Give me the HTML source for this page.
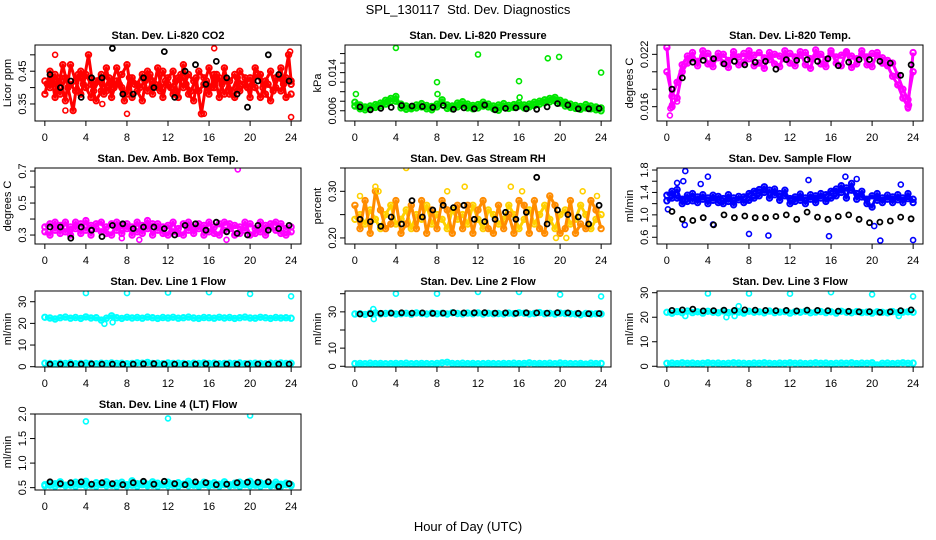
<!DOCTYPE html>
<html><head><meta charset="utf-8"><style>
html,body{margin:0;padding:0;background:#fff}
svg{display:block;font-family:"Liberation Sans",Arial,sans-serif}
</style></head><body>
<svg id="chart" width="936" height="540" viewBox="0 0 936 540">
<text x="468" y="14" text-anchor="middle" font-size="13" style="white-space:pre">SPL_130117  Std. Dev. Diagnostics</text>
<text x="468" y="531" text-anchor="middle" font-size="13">Hour of Day (UTC)</text>
</svg>
<script>
// ---------- data ----------
const xTicks = [0,4,8,12,16,20,24];

const co2A = [0.42,0.40,0.44,0.38,0.43,0.41,0.39,0.45,0.40,0.37,0.42,0.44,0.39,0.41,0.46,0.40,0.38,0.43,0.41,0.44,0.39,0.42,0.40,0.45,0.41,0.38,0.43,0.40,0.44,0.42,0.39,0.41,0.46,0.40,0.43,0.38,0.42,0.44,0.39,0.41,0.43,0.40,0.37,0.42,0.45,0.40,0.39,0.43,0.41];
const co2B = [0.38,0.45,0.37,0.43,0.36,0.47,0.42,0.38,0.44,0.41,0.36,0.39,0.46,0.37,0.42,0.44,0.47,0.37,0.39,0.36,0.45,0.38,0.46,0.37,0.43,0.45,0.37,0.47,0.38,0.36,0.45,0.43,0.38,0.44,0.37,0.46,0.38,0.37,0.45,0.43,0.37,0.46,0.44,0.38,0.36,0.43,0.46,0.37,0.38];
const co2C = [0.41,0.43,0.39,0.47,0.40,0.33,0.44,0.41,0.50,0.39,0.42,0.38,0.43,0.40,0.41,0.36,0.43,0.41,0.40,0.42,0.44,0.41,0.39,0.42,0.40,0.42,0.44,0.41,0.39,0.43,0.32,0.42,0.40,0.44,0.41,0.42,0.39,0.43,0.41,0.40,0.42,0.44,0.40,0.41,0.39,0.43,0.41,0.50,0.42];
const co2OutT = [1.0,2.0,5.6,8.0,15.5,16.5,23.9,24.0];
const co2OutV = [0.50,0.33,0.35,0.32,0.32,0.52,0.51,0.31];
const co2Black = [0.44,0.40,0.42,0.37,0.43,0.43,0.52,0.38,0.38,0.43,0.40,0.51,0.37,0.45,0.47,0.41,0.48,0.43,0.38,0.34,0.42,0.50,0.44,0.42];
const co2Ticks = [0.35,0.40,0.45,0.50];
const co2Labels = ["0.35","","0.45",""];

const prA = [0.0078,0.0072,0.0068,0.0070,0.0073,0.0076,0.0082,0.0086,0.0080,0.0074,0.0070,0.0068,0.0072,0.0075,0.0071,0.0069,0.0074,0.0077,0.0072,0.0070,0.0076,0.0079,0.0074,0.0071,0.0073,0.0078,0.0074,0.0070,0.0072,0.0075,0.0071,0.0073,0.0076,0.0072,0.0074,0.0078,0.0080,0.0083,0.0086,0.0088,0.0082,0.0078,0.0074,0.0071,0.0069,0.0073,0.0070,0.0068,0.0066];
const prB = [0.0070,0.0064,0.0062,0.0065,0.0067,0.0070,0.0074,0.0080,0.0090,0.0066,0.0063,0.0064,0.0066,0.0068,0.0064,0.0062,0.0068,0.0083,0.0065,0.0064,0.0068,0.0072,0.0066,0.0064,0.0066,0.0070,0.0068,0.0064,0.0061,0.0068,0.0065,0.0067,0.0070,0.0066,0.0068,0.0071,0.0074,0.0077,0.0079,0.0081,0.0076,0.0070,0.0067,0.0065,0.0063,0.0066,0.0064,0.0062,0.0060];
const prOutT = [0.1,4.0,8.0,8.05,12.0,16.0,16.05,18.8,19.9,24.0];
const prOutV = [0.0095,0.0192,0.0120,0.0095,0.0178,0.0122,0.0088,0.0170,0.0173,0.0140];
const prBlack = [0.0068,0.0062,0.0065,0.0067,0.0071,0.0070,0.0069,0.0067,0.0071,0.0063,0.0066,0.0064,0.0072,0.0062,0.0065,0.0066,0.0064,0.0063,0.0068,0.0075,0.0072,0.0064,0.0064,0.0065];
const prTicks = [0.006,0.008,0.010,0.012,0.014,0.016,0.018];
const prLabels = ["0.006","","","","0.014","",""];

const tpA = [0.0200,0.0172,0.0188,0.0208,0.0218,0.0215,0.0212,0.0218,0.0221,0.0214,0.0216,0.0220,0.0213,0.0219,0.0217,0.0221,0.0215,0.0219,0.0222,0.0216,0.0214,0.0220,0.0218,0.0215,0.0221,0.0217,0.0219,0.0222,0.0215,0.0218,0.0220,0.0214,0.0221,0.0217,0.0219,0.0222,0.0218,0.0215,0.0220,0.0217,0.0221,0.0219,0.0216,0.0213,0.0210,0.0196,0.0180,0.0168,0.0200];
const tpB = [0.0228,0.0160,0.0170,0.0200,0.0210,0.0222,0.0207,0.0224,0.0209,0.0206,0.0221,0.0210,0.0205,0.0223,0.0208,0.0211,0.0224,0.0207,0.0210,0.0204,0.0222,0.0209,0.0206,0.0224,0.0210,0.0207,0.0223,0.0208,0.0204,0.0225,0.0209,0.0206,0.0224,0.0210,0.0207,0.0223,0.0205,0.0209,0.0224,0.0208,0.0206,0.0222,0.0210,0.0207,0.0195,0.0185,0.0170,0.0160,0.0222];
const tpOutT = [0.3,0.35,0.5,1.0,23.5,23.6];
const tpOutV = [0.0150,0.0158,0.0162,0.0166,0.0158,0.0162];
const tpBlack = [0.0180,0.0193,0.0211,0.0213,0.0215,0.0209,0.0212,0.0208,0.0211,0.0212,0.0203,0.0214,0.0213,0.0214,0.0212,0.0215,0.0207,0.0211,0.0214,0.0214,0.0212,0.0210,0.0196,0.0208];
const tpTicks = [0.016,0.018,0.020,0.022];
const tpLabels = ["0.016","","","0.022"];

const abA = [0.35,0.37,0.33,0.36,0.32,0.35,0.34,0.37,0.33,0.36,0.34,0.32,0.35,0.37,0.33,0.36,0.34,0.35,0.32,0.36,0.34,0.37,0.33,0.35,0.36,0.32,0.34,0.37,0.33,0.35,0.34,0.36,0.32,0.35,0.37,0.33,0.34,0.36,0.35,0.33,0.37,0.34,0.32,0.36,0.35,0.33,0.37,0.34,0.35];
const abB = [0.32,0.30,0.38,0.31,0.38,0.30,0.38,0.31,0.39,0.30,0.37,0.38,0.31,0.30,0.38,0.31,0.37,0.30,0.38,0.31,0.39,0.30,0.37,0.31,0.30,0.38,0.31,0.30,0.38,0.31,0.37,0.30,0.38,0.31,0.30,0.38,0.37,0.30,0.31,0.38,0.30,0.31,0.38,0.30,0.37,0.38,0.31,0.30,0.32];
const abOutT = [7.5,9.2,17.7,18.8];
const abOutV = [0.28,0.27,0.27,0.71];
const abBlack = [0.35,0.35,0.28,0.35,0.33,0.29,0.36,0.37,0.34,0.35,0.35,0.34,0.30,0.36,0.37,0.33,0.38,0.32,0.31,0.30,0.36,0.33,0.34,0.36];
const abTicks = [0.3,0.4,0.5,0.6,0.7];
const abLabels = ["0.3","","0.5","","0.7"];

const rhA = [0.24,0.25,0.23,0.26,0.24,0.22,0.25,0.27,0.23,0.24,0.26,0.22,0.25,0.24,0.27,0.23,0.25,0.24,0.22,0.26,0.24,0.25,0.23,0.27,0.24,0.22,0.26,0.25,0.23,0.24,0.27,0.25,0.22,0.24,0.26,0.23,0.25,0.27,0.24,0.22,0.25,0.26,0.23,0.24,0.27,0.25,0.22,0.24,0.25];
const rhB = [0.27,0.22,0.28,0.21,0.30,0.26,0.22,0.23,0.28,0.21,0.23,0.27,0.22,0.28,0.21,0.26,0.22,0.28,0.26,0.21,0.27,0.22,0.27,0.21,0.26,0.28,0.22,0.21,0.27,0.22,0.25,0.21,0.28,0.27,0.21,0.28,0.22,0.21,0.29,0.27,0.21,0.22,0.28,0.21,0.23,0.22,0.28,0.26,0.22];
const rhOutT = [0.5,2.0,2.3,5.0,9.0,10.7,15.2,16.3,19.6,20.6,22.2,23.6];
const rhOutV = [0.29,0.31,0.30,0.35,0.30,0.31,0.31,0.30,0.20,0.20,0.30,0.29];
const rhBlack = [0.24,0.235,0.225,0.245,0.23,0.28,0.245,0.26,0.27,0.265,0.27,0.24,0.235,0.24,0.255,0.24,0.255,0.33,0.23,0.26,0.25,0.245,0.23,0.27];
const rhTicks = [0.20,0.25,0.30,0.35];
const rhLabels = ["0.20","","0.30",""];

const sfA = [1.35,1.42,1.30,1.28,1.35,1.25,1.32,1.28,1.30,1.26,1.33,1.29,1.24,1.30,1.27,1.32,1.38,1.42,1.45,1.40,1.44,1.36,1.38,1.34,1.29,1.32,1.26,1.30,1.28,1.34,1.30,1.36,1.42,1.46,1.40,1.48,1.44,1.38,1.32,1.28,1.34,1.26,1.30,1.28,1.32,1.27,1.30,1.29,1.28];
const sfB = [1.25,1.30,1.45,1.20,1.24,1.38,1.22,1.36,1.20,1.35,1.22,1.20,1.36,1.18,1.33,1.22,1.26,1.30,1.34,1.50,1.30,1.46,1.26,1.44,1.20,1.24,1.37,1.20,1.36,1.22,1.38,1.24,1.30,1.34,1.52,1.30,1.56,1.28,1.42,1.20,1.14,1.38,1.22,1.35,1.22,1.36,1.22,1.38,1.22];
const sfOutT = [0.1,1.0,1.6,1.8,1.75,3.3,4.0,4.5,8.0,9.9,13.8,15.8,17.4,18.5,20.2,20.8,22.8,24.0];
const sfOutV = [1.10,1.57,1.60,1.78,0.82,1.55,1.68,0.83,0.66,0.63,1.62,0.62,1.68,1.64,0.80,0.54,1.54,0.55];
const sfBlack = [1.06,0.92,0.90,0.95,0.82,1.00,0.95,0.98,0.95,0.95,0.97,1.00,0.92,1.05,0.96,0.92,0.97,1.00,0.92,0.86,0.87,0.89,0.96,0.93];
const sfTicks = [0.6,0.8,1.0,1.2,1.4,1.6,1.8];
const sfLabels = ["0.6","","1.0","","1.4","","1.8"];

const l1A = [22.8,22.5,22.0,22.6,22.9,22.4,22.7,22.3,23.0,22.5,22.6,21.5,22.4,23.5,22.6,22.3,22.8,22.5,22.7,22.4,22.9,22.6,22.3,22.7,22.5,22.8,22.4,22.6,22.9,22.5,22.3,22.7,22.6,22.4,22.8,22.5,22.7,22.3,22.6,22.9,22.5,22.4,22.8,22.6,22.3,22.7,22.5,22.6,22.4];
const l1L = [1.6,1.5,1.4,1.6,1.5,1.7,1.4,1.5,1.6,1.5,1.4,1.6,1.5,1.7,1.5,1.6,1.4,1.5,1.8,1.6,2.0,1.5,1.6,1.4,1.7,1.5,1.6,1.5,1.4,1.6,1.5,1.7,1.5,1.6,1.4,1.5,1.6,1.5,1.7,1.4,1.5,1.6,1.5,1.4,1.6,1.5,1.7,1.5,1.6];
const l1OutT = [4.0,5.8,6.6,8.0,12.0,16.0,20.0,24.0];
const l1OutV = [34.0,19.8,20.5,34.0,34.2,34.4,33.6,32.5];
const l1Black = [1.2,1.2,1.1,1.2,1.3,1.2,1.2,1.1,1.2,1.3,1.4,1.2,1.2,1.1,1.2,1.3,1.2,1.2,1.1,1.2,1.2,1.1,1.2,1.2];
const l1Ticks = [0,10,20,30];
const l1Labels = ["0","10","20","30"];

const l2A = [28.8,29.0,28.6,29.2,29.4,28.9,29.1,29.3,28.8,29.0,29.2,28.7,29.4,29.1,28.9,29.3,29.0,29.2,28.8,29.5,29.1,28.9,29.3,29.0,29.4,28.8,29.2,29.0,29.1,28.9,29.3,29.0,29.5,29.2,28.9,29.1,29.6,29.0,29.2,28.8,29.3,29.1,29.0,28.9,28.4,29.1,28.8,29.0,28.9];
const l2L = [1.5,1.6,1.4,1.7,1.5,1.6,1.4,1.5,1.6,1.5,1.7,1.4,1.5,1.6,1.5,1.4,1.6,1.9,2.2,1.6,1.5,1.7,1.5,1.6,1.4,1.5,1.6,1.5,1.4,1.6,1.5,1.7,1.5,1.6,1.9,1.5,1.6,1.5,1.7,1.4,1.8,1.6,1.5,1.4,1.6,1.2,1.7,1.5,1.6];
const l2OutT = [1.8,1.85,4.0,8.0,12.0,16.0,20.0,24.0];
const l2OutV = [31.5,26.0,40.0,40.0,41.0,41.0,39.5,38.5];
const l2Black = [28.8,29.0,29.2,29.3,29.5,29.3,29.4,29.2,29.3,29.6,29.4,29.5,29.6,29.3,29.4,29.2,29.5,29.4,29.3,29.6,29.4,29.2,29.0,29.1];
const l2Ticks = [0,10,20,30,40];
const l2Labels = ["0","10","","30",""];

const l3A = [22.0,21.6,22.3,21.8,22.5,21.9,22.2,21.7,22.4,22.0,21.8,22.6,21.9,22.3,22.1,21.7,22.4,22.0,22.2,21.8,22.5,21.9,22.1,22.3,21.7,22.2,22.0,22.4,21.8,22.1,22.3,21.9,22.2,21.7,22.4,22.0,21.8,22.3,21.9,22.1,21.7,22.2,22.0,21.8,22.3,21.9,22.1,22.2,22.0];
const l3L = [1.2,1.3,1.1,1.4,1.2,1.3,1.1,1.2,1.4,1.2,1.3,1.1,1.2,1.4,1.3,1.2,1.1,1.3,1.2,1.4,1.2,1.1,1.3,1.2,1.4,1.2,1.3,1.1,1.2,1.4,1.2,1.3,1.1,1.2,1.3,1.2,1.4,1.1,1.3,1.2,1.4,0.5,1.2,1.3,1.1,1.2,1.4,1.2,1.3];
const l3OutT = [1.8,4.0,5.8,6.6,7.0,8.0,12.0,16.0,20.0,22.6,24.0];
const l3OutV = [20.5,29.7,20.0,20.5,24.5,29.7,29.6,30.2,29.3,20.5,28.5];
const l3Black = [22.8,23.0,23.3,22.6,22.7,22.9,22.8,23.0,22.9,22.8,22.7,22.8,22.6,22.9,22.8,22.7,22.5,22.4,22.2,22.3,22.0,22.2,22.7,23.0];
const l3Ticks = [0,10,20,30];
const l3Labels = ["0","10","20","30"];

const l4A = [0.56,0.60,0.58,0.62,0.55,0.59,0.61,0.57,0.63,0.56,0.60,0.58,0.62,0.57,0.59,0.61,0.56,0.64,0.58,0.60,0.57,0.62,0.59,0.56,0.61,0.58,0.60,0.57,0.63,0.59,0.56,0.61,0.58,0.60,0.57,0.62,0.56,0.59,0.61,0.58,0.63,0.57,0.60,0.58,0.56,0.61,0.57,0.59,0.56];
const l4L = [0.54,0.55,0.53,0.56,0.54,0.55,0.53,0.56,0.54,0.55,0.53,0.56,0.54,0.55,0.53,0.56,0.54,0.55,0.53,0.56,0.54,0.55,0.53,0.56,0.54,0.55,0.53,0.56,0.54,0.55,0.53,0.56,0.54,0.55,0.53,0.56,0.54,0.55,0.53,0.56,0.54,0.55,0.53,0.56,0.54,0.55,0.53,0.56,0.54];
const l4OutT = [4.0,12.0,20.0];
const l4OutV = [1.85,1.91,1.97];
const l4Black = [0.62,0.58,0.60,0.62,0.57,0.60,0.58,0.56,0.60,0.63,0.57,0.63,0.58,0.56,0.62,0.60,0.56,0.57,0.60,0.61,0.61,0.62,0.52,0.58];
const l4Ticks = [0.5,1.0,1.5,2.0];
const l4Labels = ["0.5","1.0","1.5","2.0"];

// ---------- layout ----------
const SVGNS = "http://www.w3.org/2000/svg";
const svg = document.getElementById('chart');
const cols = [[35,301],[345,611],[657,923]];
const rows = [[45,121],[168,244],[291,367],[414,490]];

function el(tag, attrs, parent){
  const e = document.createElementNS(SVGNS, tag);
  for (const k in attrs) e.setAttribute(k, attrs[k]);
  (parent||svg).appendChild(e);
  return e;
}

function panel(p){
  const [x0,x1] = cols[p.col], [y0,y1] = rows[p.row];
  const g = el('g', {});
  
  
  const xs = t => x0 + (t + 0.96) / 25.92 * (x1 - x0);
  const ys = v => y1 - (v - p.lo) / (p.hi - p.lo) * (y1 - y0);
  const clip = 'clip' + p.name;
  const cp = el('clipPath', {id: clip}, g);
  el('rect', {x:x0, y:y0, width:x1-x0, height:y1-y0}, cp);
  const pts = el('g', {'clip-path':'url(#'+clip+')'}, g);
  
  
  const dot = (t, v, stroke, fill, sw, r) => {
    const c = el('circle', {cx:xs(t).toFixed(1), cy:ys(v).toFixed(1), r:r, fill:fill, stroke:stroke, 'stroke-width':sw}, pts);
    
    
  };
  p.series.forEach((arr, si) => {
    const n = arr.length;
    const off = si === 2 ? 0.25 : 0;
    const col = p.colors[si % p.colors.length];
    const tt = arr.map((v, i) => Math.min(24, i * 24 / (n - 1) + off));
    const d = arr.map((v, i) => (i ? 'L' : 'M') + xs(tt[i]).toFixed(1) + ',' + ys(v).toFixed(1)).join('');
    const band = el('path', {d:d, fill:'none', stroke:col, 'stroke-width':3, 'stroke-linejoin':'round'}, pts);
    
    
    arr.forEach((v, i) => dot(tt[i], v, col, p.fill, 2, 2.7));
  });
  p.outT.forEach((t, i) => dot(t, p.outV[i], p.colors[0], p.fill, 1.6, 2.5));
  const nb = p.black.length;
  p.black.forEach((v, i) => dot(0.5 + i * 23.3 / (nb - 1), v, '#000', 'none', 1.8, 2.5));
  const box = el('rect', {x:x0, y:y0, width:x1-x0, height:y1-y0, fill:'none', stroke:'#000', 'stroke-width':1}, g);
  
  
  const xa = el('g', {}, g);
  
  
  el('line', {x1:xs(xTicks[0]), x2:xs(xTicks[xTicks.length-1]), y1:y1, y2:y1, stroke:'#000'}, xa);
  xTicks.forEach(t => {
    el('line', {x1:xs(t), x2:xs(t), y1:y1, y2:y1+5, stroke:'#000'}, xa);
    const tx = el('text', {x:xs(t), y:y1+20, 'text-anchor':'middle', 'font-size':11}, xa);
    tx.textContent = t;
    
    
  });
  const ya = el('g', {}, g);
  
  
  el('line', {x1:x0, x2:x0, y1:ys(p.ticks[0]), y2:ys(p.ticks[p.ticks.length-1]), stroke:'#000'}, ya);
  p.ticks.forEach((v, i) => {
    el('line', {x1:x0-5, x2:x0, y1:ys(v), y2:ys(v), stroke:'#000'}, ya);
    if (p.labels[i]) {
      const tx = el('text', {x:0, y:0, 'text-anchor':'middle', 'font-size':11, transform:'translate('+(x0-9)+','+ys(v)+') rotate(-90)'}, ya);
      tx.textContent = p.labels[i];
      
      
    }
  });
  const yt = el('text', {x:0, y:0, 'text-anchor':'middle', 'font-size':11, transform:'translate('+(x0-24)+','+((y0+y1)/2)+') rotate(-90)'}, g);
  yt.textContent = p.ylab;
  
  
  const tt = el('text', {x:(x0+x1)/2, y:y0-6, 'text-anchor':'middle', 'font-size':11, 'font-weight':'bold'}, g);
  tt.textContent = p.title;
  
  
}

panel({name:'co2-panel', row:0, col:0, lo:0.298, hi:0.530, series:[co2A,co2B,co2C], colors:['#ff0000'], fill:'none', outT:co2OutT, outV:co2OutV, black:co2Black, ticks:co2Ticks, labels:co2Labels, ylab:'Licor ppm', title:'Stan. Dev. Li-820 CO2'});
panel({name:'pressure-panel', row:0, col:1, lo:0.00385, hi:0.0198, series:[prA,prB], colors:['#00e600'], fill:'none', outT:prOutT, outV:prOutV, black:prBlack, ticks:prTicks, labels:prLabels, ylab:'kPa', title:'Stan. Dev. Li-820 Pressure'});
panel({name:'temp-panel', row:0, col:2, lo:0.01436, hi:0.02307, series:[tpA,tpB], colors:['#ff00ff'], fill:'none', outT:tpOutT, outV:tpOutV, black:tpBlack, ticks:tpTicks, labels:tpLabels, ylab:'degrees C', title:'Stan. Dev. Li-820 Temp.'});
panel({name:'amb-box-temp-panel', row:1, col:0, lo:0.244, hi:0.719, series:[abA,abB], colors:['#ff00ff'], fill:'none', outT:abOutT, outV:abOutV, black:abBlack, ticks:abTicks, labels:abLabels, ylab:'degrees C', title:'Stan. Dev. Amb. Box Temp.'});
panel({name:'rh-panel', row:1, col:1, lo:0.187, hi:0.350, series:[rhA,rhB], colors:['#ffd000','#ff8c00'], fill:'none', outT:rhOutT, outV:rhOutV, black:rhBlack, ticks:rhTicks, labels:rhLabels, ylab:'percent', title:'Stan. Dev. Gas Stream RH'});
panel({name:'sample-flow-panel', row:1, col:2, lo:0.48, hi:1.836, series:[sfA,sfB], colors:['#0000ff'], fill:'none', outT:sfOutT, outV:sfOutV, black:sfBlack, ticks:sfTicks, labels:sfLabels, ylab:'ml/min', title:'Stan. Dev. Sample Flow'});
panel({name:'line1-flow-panel', row:2, col:0, lo:-0.14, hi:34.95, series:[l1A,l1L], colors:['#00ffff'], fill:'none', outT:l1OutT, outV:l1OutV, black:l1Black, ticks:l1Ticks, labels:l1Labels, ylab:'ml/min', title:'Stan. Dev. Line 1 Flow'});
panel({name:'line2-flow-panel', row:2, col:1, lo:-0.4, hi:41.5, series:[l2A,l2L], colors:['#00ffff'], fill:'none', outT:l2OutT, outV:l2OutV, black:l2Black, ticks:l2Ticks, labels:l2Labels, ylab:'ml/min', title:'Stan. Dev. Line 2 Flow'});
panel({name:'line3-flow-panel', row:2, col:2, lo:-0.3, hi:30.7, series:[l3A,l3L], colors:['#00ffff'], fill:'none', outT:l3OutT, outV:l3OutV, black:l3Black, ticks:l3Ticks, labels:l3Labels, ylab:'ml/min', title:'Stan. Dev. Line 3 Flow'});
panel({name:'line4-flow-panel', row:3, col:0, lo:0.452, hi:2.0, series:[l4A,l4L], colors:['#00ffff'], fill:'none', outT:l4OutT, outV:l4OutV, black:l4Black, ticks:l4Ticks, labels:l4Labels, ylab:'ml/min', title:'Stan. Dev. Line 4 (LT) Flow'});
</script>
</body></html>
